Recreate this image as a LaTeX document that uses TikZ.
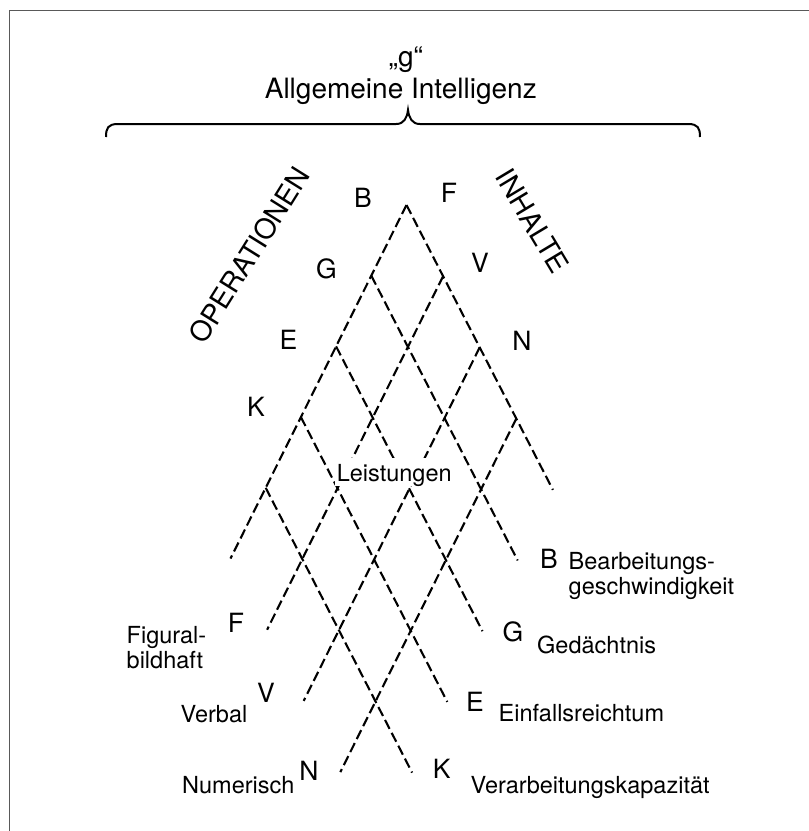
\documentclass[tikz,border=0pt]{standalone}
\usepackage{fontspec}
\setmainfont{TeX Gyre Heros}
\begin{document}
\begin{tikzpicture}[x=1pt,y=-1pt,
  grid/.style={line width=2.1pt, dash pattern=on 10pt off 4.5pt},
  bigletter/.style={font=\fontsize{26.5}{30}\selectfont, inner sep=0pt},
  smalllab/.style={font=\fontsize{23.5}{24.5}\selectfont, inner sep=0pt, anchor=base west, align=left},
  titlefont/.style={font=\fontsize{28}{33}\selectfont, inner sep=0pt},
  frame/.style={draw=black!65, line width=1.6pt}]
\useasboundingbox (0,0) rectangle (809,831);
% frame
\draw[frame] (9.5,831) -- (9.5,10.5) -- (809,10.5);
% title
\node[titlefont, anchor=base] (gq) at (405.8,66.7) {„g“};
\node[titlefont, anchor=base] (ai) at (400.8,98.3) {Allgemeine Intelligenz};
% brace
\draw[line width=2pt] (106,137) .. controls (106,128) and (108,124) .. (118,124) -- (396,124)
  .. controls (404,124) and (407,118) .. (408,110)
  .. controls (409,118) and (412,124) .. (420,124) -- (688,124)
  .. controls (698,124) and (700,128) .. (700,137);
% lattice nodes
\foreach \p in {0,...,4}
  \foreach \q in {0,...,5}
    \coordinate (n\p\q) at ({406.5+36.6*\p-35.2*\q},{205+71.2*\p+70.7*\q});
% operation lines (down-right)
\foreach \k in {0,...,4}
  \draw[grid] (n0\k) -- (n4\k);
% content lines (down-left)
\foreach \k in {0,...,3}
  \draw[grid] (n\k0) -- (n\k5);
% Leistungen
\node[font=\fontsize{23.5}{27}\selectfont, fill=white, inner xsep=1.5pt, inner ysep=0pt,
  text height=24pt, text depth=4pt, anchor=base] (leist) at (394.2,481.7) {Leistungen};
% axis titles
\node[titlefont, rotate=58] (ops) at (249.2,255) {OPERATIONEN};
\node[titlefont, rotate=-59] (inh) at (532.5,221) {INHALTE};
% top letters
\node[bigletter] (tB) at (363,197.5) {B};
\node[bigletter] (tG) at (326.5,269) {G};
\node[bigletter] (tE) at (288.5,340) {E};
\node[bigletter] (tK) at (256,406.7) {K};
\node[bigletter] (tF) at (449,193) {F};
\node[bigletter] (tV) at (480,262.5) {V};
\node[bigletter] (tN) at (522,341) {N};
% bottom letters
\node[bigletter] (bB) at (549,559) {B};
\node[bigletter] (bG) at (513,632) {G};
\node[bigletter] (bE) at (475,702) {E};
\node[bigletter] (bK) at (441.7,769) {K};
\node[bigletter] (bF) at (236,623) {F};
\node[bigletter] (bV) at (266,693) {V};
\node[bigletter] (bN) at (309,771) {N};
% bottom labels (base anchor = baseline of last line)
\node[smalllab] (lB) at (568.5,594) {Bearbeitungs-\\geschwindigkeit};
\node[smalllab] (lG) at (537,653.3) {Gedächtnis};
\node[smalllab] (lE) at (498.5,721.7) {Einfallsreichtum};
\node[smalllab] (lK) at (470.5,793.3) {Verarbeitungskapazität};
\node[smalllab] (lF) at (126.5,668) {Figural-\\bildhaft};
\node[smalllab] (lV) at (180.5,722) {Verbal};
\node[smalllab] (lN) at (182,793.3) {Numerisch};
\end{tikzpicture}
\end{document}
